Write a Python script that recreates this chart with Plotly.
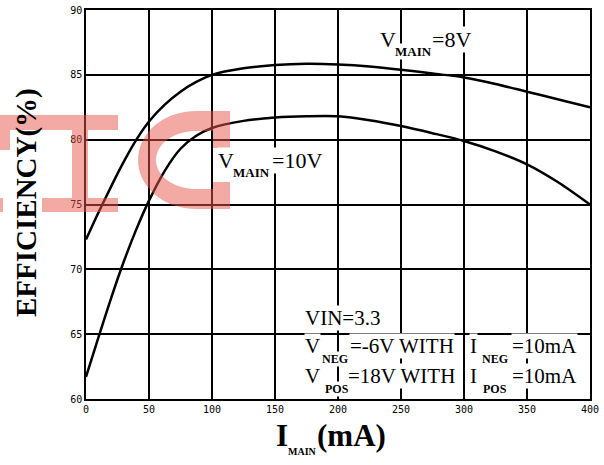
import math
import plotly.graph_objects as go

# ---- data ----
i_main = [0, 10, 20, 30, 40, 50, 62.5, 75, 87.5, 100, 125, 150, 175, 200,
          225, 250, 275, 300, 325, 350, 375, 400]
eff_8v = [72.3, 74.4, 76.4, 78.3, 80.0, 81.4, 82.7, 83.7, 84.45, 85.0, 85.5,
          85.75, 85.85, 85.8, 85.65, 85.4, 85.1, 84.8, 84.3, 83.7, 83.1, 82.5]
eff_10v = [61.7, 64.8, 67.8, 70.6, 73.1, 75.3, 77.6, 79.3, 80.3, 80.9, 81.45,
           81.7, 81.8, 81.8, 81.5, 81.05, 80.5, 79.9, 79.1, 78.1, 76.7, 75.0]
x_ticks = [0, 50, 100, 150, 200, 250, 300, 350, 400]
y_ticks = [60, 65, 70, 75, 80, 85, 90]

W, H = 604, 465
L, R, T, B = 86, 14, 10, 66
PW, PH = W - L - R, H - T - B


def px(x):
    return (x - L) / PW


def py(y):
    return (H - B - y) / PH


fig = go.Figure()
for ys in (eff_8v, eff_10v):
    fig.add_trace(go.Scatter(x=i_main, y=ys, mode="lines",
                             line=dict(color="black", width=2.5, shape="spline", smoothing=0.8),
                             showlegend=False, hoverinfo="skip"))

serif = "Liberation Serif"
ann = []


def text(s, x, y, size, bold=False, anchor="left", bg="rgba(0,0,0,0)", angle=0):
    ann.append(dict(text=("<b>%s</b>" % s) if bold else s, x=px(x), y=py(y),
                    xref="paper", yref="paper", xanchor=anchor, yanchor="middle",
                    showarrow=False, textangle=angle, bgcolor=bg, borderpad=0,
                    font=dict(family=serif, size=size, color="black")))


# axis titles
text("EFFICIENCY(%)", 26, 203, 29, bold=True, anchor="center", angle=-90)
text("I", 275, 435, 31, bold=True)
text("MAIN", 287, 451, 10, bold=True)
text("(mA)", 316, 435, 31, bold=True)

# curve labels
text("V", 379, 40, 22, bg="white")
text("MAIN", 394, 52, 13, bold=True, bg="white")
text("=8V", 431, 40, 22, bg="white")
text("V", 217, 160, 22, bg="white")
text("MAIN", 232, 172, 13, bold=True, bg="white")
text("=10V", 271, 160, 22, bg="white")

# condition box
text("VIN=3.3", 304, 318, 21, bg="white")
text("V", 304, 346, 21, bg="white")
text("NEG", 321, 359, 12, bold=True, bg="white")
text("=-6V WITH", 349, 346, 21, bg="white")
text("I", 469, 346, 21, bg="white")
text("NEG", 481, 359, 12, bold=True, bg="white")
text("=10mA", 511, 346, 21, bg="white")
text("V", 304, 376, 21, bg="white")
text("POS", 324, 389, 12, bold=True, bg="white")
text("=18V WITH", 347, 376, 21, bg="white")
text("I", 469, 376, 21, bg="white")
text("POS", 482, 389, 12, bold=True, bg="white")
text("=10mA", 511, 376, 21, bg="white")

# watermark shapes (decoration)
wm_color = "rgb(233,85,73)"
rects = [(0, 115, 118, 130), (0, 130, 10, 150), (72, 130, 88, 198),
         (42, 198, 118, 212), (0, 198, 3, 212)]
shapes = []
for x0, y0, x1, y1 in rects:
    shapes.append(dict(type="rect", xref="paper", yref="paper", layer="above",
                       fillcolor=wm_color, opacity=0.5, line=dict(width=0),
                       x0=px(x0), x1=px(x1), y0=py(y1), y1=py(y0)))

cx, cy = 196, 160
pts = [(230, 111)]
for k in range(0, 37):
    a = math.radians(90 + 5 * k)
    pts.append((cx + 58 * math.cos(a), cy - 49 * math.sin(a)))
pts += [(230, 209), (230, 182), (213, 182), (213, 189)]
for k in range(0, 37):
    a = math.radians(270 - 5 * k)
    pts.append((cx + 40 * math.cos(a), cy - 29 * math.sin(a)))
pts += [(213, 131), (213, 148), (230, 148)]
path = "M " + " L ".join("%.4f,%.4f" % (px(a), py(b)) for a, b in pts) + " Z"
shapes.append(dict(type="path", path=path, xref="paper", yref="paper", layer="above",
                   fillcolor=wm_color, opacity=0.5, line=dict(width=0)))

axis_common = dict(showgrid=True, gridcolor="black", gridwidth=1.5, zeroline=False,
                   showline=True, linecolor="black", linewidth=1.5, mirror=True,
                   automargin=False, ticks="",
                   tickfont=dict(family="DejaVu Sans Mono", size=10, color="black"))
fig.update_layout(
    width=W, height=H, margin=dict(l=L, r=R, t=T, b=B, autoexpand=False),
    paper_bgcolor="white", plot_bgcolor="white",
    xaxis=dict(axis_common, range=[0, 400], tickvals=x_ticks, ticktext=[str(v) for v in x_ticks]),
    yaxis=dict(axis_common, range=[60, 90], tickvals=y_ticks, ticktext=[str(v) for v in y_ticks]),
    annotations=ann, shapes=shapes,
)
fig.write_html("out.html")
